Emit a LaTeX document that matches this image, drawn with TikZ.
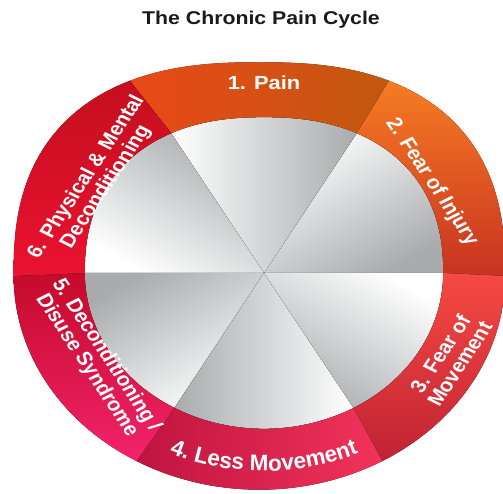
\documentclass[tikz,border=0pt]{standalone}
\usepackage{fontspec}
\setmainfont{Liberation Sans}
\usetikzlibrary{calc,decorations.text}
\definecolor{wgray}{HTML}{A9ABAD}
\definecolor{ttl}{HTML}{1A1A1A}
\definecolor{s1l}{HTML}{EA4818}
\definecolor{s1m}{HTML}{FA8A0C}
\definecolor{s1r}{HTML}{C2580F}
\definecolor{s2t}{HTML}{F67C22}
\definecolor{s2b}{HTML}{C83221}
\definecolor{s3t}{HTML}{F54A42}
\definecolor{s3b}{HTML}{C12233}
\definecolor{s4l}{HTML}{BF1440}
\definecolor{s4r}{HTML}{F2335A}
\definecolor{s5t}{HTML}{C50A2A}
\definecolor{s5b}{HTML}{F2236B}
\definecolor{s6t}{HTML}{C40F1E}
\definecolor{s6b}{HTML}{EA1230}
\newcommand{\ri}{156}
\newcommand{\ro}{214}
\tikzset{
	declare function={
		nin(\t)=(sin(\t)>0)*0.3+2;
		nout(\t)=(sin(\t)>0)*0.5+2;
		sq(\t,\k)=1/((abs(cos(\t))+0.001)^\k+(abs(sin(\t))+0.001)^\k)^(1/\k);
	},
	seg1/.style={left color=s1l, middle color=s1m, right color=s1r},
	seg2/.style={top color=s2t, bottom color=s2b},
	seg3/.style={top color=s3t, bottom color=s3b},
	seg4/.style={left color=s4l, right color=s4r},
	seg5/.style={top color=s5t, bottom color=s5b},
	seg6/.style={top color=s6t, bottom color=s6b},
	lbl/.style={text=white, font=\fontsize{19}{19.5}\selectfont\bfseries, align=center, inner sep=0pt}
}

\begin{document}
\begin{tikzpicture}[x=1pt,y=1pt]
	\useasboundingbox (0,0) rectangle (503,494);
	\begin{scope}[shift={(264,221)}, xscale=1.15, transform shape]
		\coordinate (o) at (0,0);
		\foreach \a in {0,60,...,300} {
			\pgfmathsetmacro{\aend}{\a+60}
			\pgfmathsetmacro{\amid}{\a+30}
			\fill[bottom color=wgray, top color=white, shading angle=\amid] (o) -- plot[domain=\a:\aend, samples=31] (\x:{\ri*sq(\x,nin(\x))}) -- cycle;
		}
		\foreach \a/\st in {60/seg1, 0/seg2, -60/seg3, 240/seg4, 180/seg5, 120/seg6} {
			\pgfmathsetmacro{\aend}{\a+60}
			\fill[\st] plot[domain=\a:\aend, samples=31] ({-4+\ro*sq(\x,nout(\x))*cos(\x)}, {-3+\ro*sq(\x,nout(\x))*sin(\x)})
				-- plot[domain=\aend:\a, samples=31] (\x:{\ri*sq(\x,nin(\x))}) -- cycle;
		}
		\node[font=\fontsize{18.5}{20}\selectfont\bfseries, text=ttl] (t) at (-2.6,253.5) {The Chronic Pain Cycle};
		\node[lbl] (p1) at (90:190) {1. Pain};
		\node[lbl, rotate=-60] (p2) at (32:172) {2. Fear of Injury};
		\node[lbl, rotate=60] (p3) at (-28:183) {3. Fear of\\Movement};
		\node[lbl, rotate=-60] (p5) at (211:170) {5. Deconditioning /\\Disuse Syndrome};
		\node[lbl, rotate=60] (p6) at (148:172) {6. Physical \& Mental\\Deconditioning};
		\path[decorate, decoration={text along path, text align=center, text color=white,
			text={|\fontsize{22.5}{24}\selectfont\bfseries|4. Less Movement}}]
			(234:198) arc[start angle=234, end angle=306, radius=198];
	\end{scope}
\end{tikzpicture}
\end{document}
